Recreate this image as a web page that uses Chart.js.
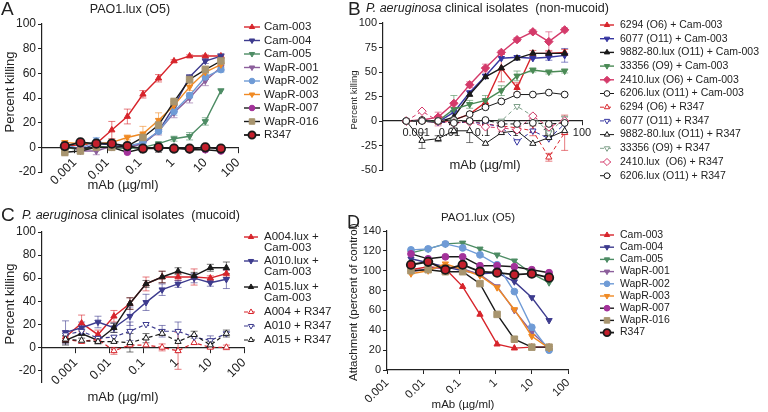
<!DOCTYPE html>
<html>
<head>
<meta charset="utf-8">
<script src="https://cdn.jsdelivr.net/npm/chart.js"></script>
<style>
  body { margin: 0; width: 768px; height: 412px; background: #fff; position: relative; overflow: hidden;
         font-family: "Liberation Sans", Arial, sans-serif; color: #222; }
  canvas { position: absolute; }
  .t { position: absolute; white-space: pre; line-height: 1; transform: translate(-50%, -50%); }
  .l { position: absolute; white-space: pre; line-height: 1; }
  .v { position: absolute; white-space: pre; line-height: 1; transform: translate(-50%, -50%) rotate(-90deg); }
</style>
</head>
<body>
<canvas id="cA" style="left:0;top:0" width="384" height="206"></canvas>
<canvas id="cB" style="left:330px;top:0" width="438" height="206"></canvas>
<canvas id="cC" style="left:0;top:206px" width="384" height="206"></canvas>
<canvas id="cD" style="left:330px;top:206px" width="438" height="206"></canvas>

<div class="l" style="left:1px;top:-1px;font-size:19px">A</div>
<div class="t" style="left:130px;top:9px;font-size:12.5px">PAO1.lux (O5)</div>
<div class="v" style="left:9px;top:92px;font-size:13px">Percent killing</div>
<div class="t" style="left:123px;top:184px;font-size:13px">mAb (µg/ml)</div>

<div class="l" style="left:348px;top:-1px;font-size:19px">B</div>
<div class="l" style="left:366px;top:2px;font-size:12.5px"><i>P. aeruginosa</i> clinical isolates  (non-mucoid)</div>
<div class="v" style="left:354px;top:100px;font-size:9.5px">Percent killing</div>
<div class="t" style="left:485px;top:164px;font-size:13px">mAb (µg/ml)</div>

<div class="l" style="left:1px;top:205px;font-size:19px">C</div>
<div class="l" style="left:22px;top:209px;font-size:12.5px"><i>P. aeruginosa</i> clinical isolates  (mucoid)</div>
<div class="v" style="left:9px;top:304px;font-size:13px">Percent killing</div>
<div class="t" style="left:123px;top:396px;font-size:13px">mAb (µg/ml)</div>

<div class="l" style="left:347px;top:213px;font-size:18px">D</div>
<div class="t" style="left:478px;top:218px;font-size:11.5px">PAO1.lux (O5)</div>
<div class="v" style="left:354px;top:302px;font-size:11.5px">Attachment (percent of control)</div>
<div class="t" style="left:463px;top:405px;font-size:11.5px">mAb (µg/ml)</div>

<script>
// concentrations (µg/ml)
const conc = [0.0005, 0.0015, 0.0046, 0.0137, 0.041, 0.123, 0.37, 1.1, 3.3, 10, 30];
const concD = [0.0046, 0.0137, 0.041, 0.123, 0.37, 1.1, 3.3, 10, 30];

const xTicks = [0.001, 0.01, 0.1, 1, 10, 100];
const xTickLabels = ['0.001', '0.01', '0.1', '1', '10', '100'];
const yTicksA = [-20, 0, 20, 40, 60, 80, 100];
const yTicksB = [-50, -25, 0, 25, 50, 75, 100];
const yTicksD = [0, 20, 40, 60, 80, 100, 120, 140];

// panel A - percent killing, PAO1.lux
const aCam003 = [1, 2, 3, 14, 25, 43, 56, 70, 74, 74, 74];
const aCam004 = [2, -2, 3, 2, 0, 3, 13, 33, 57, 70, 74];
const aCam005 = [0, -2, 1, 0, -1, 0, 3, 7, 9, 21, 46];
const aWapR001 = [3, -3, -3, 1, 0, 3, 13, 28, 40, 54, 65];
const aWapR002 = [2, -1, 5, 2, 1, 4, 13, 29, 42, 57, 63];
const aWapR003 = [4, 3, 3, 4, 8, 11, 22, 34, 49, 61, 67];
const aWapR007 = [0, -1, 0, 0, -4, -1, -1, 0, -2, -2, -3];
const aWapR016 = [-4, -3, 0, 0, 1, 8, 18, 37, 55, 63, 70];
const aR347 = [1, 4, 3, 3, 1, -1, 0, -1, -1, 0, -1];
const aCam003Err = [0, 0, 0, 7, 6, 3, 3, 1, 1, 1, 1];
const aCam004Err = [0, 0, 0, 0, 0, 0, 0, 0, 2, 2, 2];
const aCam005Err = [0, 0, 0, 0, 0, 0, 0, 2, 3, 3, 0];
const aWapR001Err = [0, 0, 3, 0, 0, 0, 3, 4, 4, 4, 3];
const aWapR002Err = [0, 0, 3, 0, 0, 0, 2, 3, 2, 2, 2];
const aWapR003Err = [0, 0, 0, 2, 2, 6, 6, 3, 3, 3, 2];
const aWapR016Err = [3, 0, 0, 0, 0, 2, 3, 3, 3, 3, 3];
const aR347Err = [2, 0, 0, 0, 3, 2, 4, 2, 1, 1, 1];

// panel B - clinical isolates (non-mucoid)
const b6294Cam = [0, 0, -1, 1, 7, 19, 54, 34, 69, 69, 70];
const b6077Cam = [0, 0, -1, 9, 29, 46, 64, 65, 64, 65, 67];
const b9882Cam = [0, 0, -1, 4, 27, 45, 54, 64, 69, 69, 69];
const b33356Cam = [0, 0, 0, 12, 17, 21, 31, 46, 52, 50, 51];
const b2410Cam = [0, 1, 4, 18, 37, 54, 70, 83, 91, 81, 93];
const b6206Cam = [0, 1, 0, 1, 7, 14, 20, 27, 27, 29, 27];
const b6294R = [0, 0, -1, -2, 0, -3, -5, -7, -10, -37, -12];
const b6077R = [0, 0, -1, -2, -1, -3, -6, -21, -10, -18, -3];
const b9882R = [0, -20, -18, -10, -10, -23, -12, -10, -23, -17, -10];
const b33356R = [0, 0, 0, 0, 0, -1, 0, 15, 5, -12, 3];
const b2410R = [0, 10, 0, -2, -1, -6, -7, -9, 5, -6, 0];
const b6206R = [0, 0, 0, -2, 0, 1, -3, -3, -2, -3, -2];
const b6294CamErr = [0, 0, 0, 0, 0, 3, 14, 5, 3, 3, 3];
const b6077CamErr = [0, 0, 0, 0, 0, 0, 0, 0, 0, 3, 7];
const b33356CamErr = [0, 0, 0, 14, 4, 5, 5, 5, 2, 2, 2];
const b2410CamErr = [0, 0, 5, 0, 3, 4, 2, 2, 2, 10, 2];
const b6294RErr = [0, 0, 0, 0, 0, 0, 4, 3, 5, 4, 18];
const b9882RErr = [0, 8, 3, 3, 12, 0, 0, 0, 0, 0, 0];
const b2410RErr = [0, 0, 5, 0, 0, 0, 4, 0, 0, 0, 0];

// panel C - clinical isolates (mucoid)
const cA004Cam = [9, 21, 11, 27, 38, 55, 61, 61, 61, 60, 64];
const cA010Cam = [13, 17, 22, 17, 27, 39, 50, 55, 60, 56, 59];
const cA015Cam = [6, 12, 6, 17, 38, 55, 61, 66, 62, 69, 69];
const cA004R = [7, 5, 7, -3, 2, 2, 0, -3, 4, 0, 0];
const cA010R = [11, 14, 8, 9, 14, 20, 14, 14, 9, 6, 12];
const cA015R = [7, 6, 5, 5, 4, 8, 12, 5, 11, 2, 12];
const cA004CamErr = [5, 7, 4, 5, 5, 6, 5, 3, 7, 2, 3];
const cA010CamErr = [10, 5, 5, 4, 8, 7, 5, 3, 4, 3, 8];
const cA015CamErr = [4, 4, 3, 4, 5, 3, 5, 3, 3, 3, 5];
const cA004RErr = [0, 0, 0, 3, 0, 0, 3, 16, 0, 0, 2];
const cA010RErr = [0, 0, 0, 0, 8, 0, 5, 8, 0, 4, 0];
const cA015RErr = [3, 0, 0, 0, 8, 4, 0, 0, 3, 3, 3];

// panel D - attachment (percent of control)
const dCam003 = [101, 104, 102, 84, 56, 26, 22, 23, 23];
const dCam004 = [112, 108, 104, 100, 97, 98, 89, 73, 50];
const dCam005 = [118, 122, 127, 128, 122, 116, 110, 97, 88];
const dWapR001 = [99, 102, 104, 102, 96, 84, 60, 38, 22];
const dWapR002 = [121, 122, 127, 123, 116, 106, 79, 43, 20];
const dWapR003 = [97, 100, 107, 101, 95, 83, 61, 34, 22];
const dWapR007 = [117, 112, 114, 114, 105, 105, 104, 101, 98];
const dWapR016 = [100, 101, 99, 99, 87, 56, 31, 23, 23];
const dR347 = [106, 109, 101, 106, 99, 98, 96, 97, 93];

// colours
const RED = '#d7242b', NAVY = '#3d3b8e', GREEN = '#4d8c64', PURPLE = '#8c5f9c',
      LTBLUE = '#6f9bd6', ORANGE = '#f08a24', MAGENTA = '#a3329a', TAN = '#a8956f',
      BLACK = '#1a1a1a', PINK = '#d43a6a', NAVYB = '#3535a0', GREENB = '#4a8a55';

function filled(color, shape, rot, line) {
  return { borderColor: line || color, pointBackgroundColor: color, pointBorderColor: color,
           pointStyle: shape, pointRotation: rot || 0 };
}
function open(color, shape, rot, dashed) {
  return { borderColor: color, pointBackgroundColor: '#fff', pointBorderColor: color,
           pointStyle: shape, pointRotation: rot || 0, borderDash: dashed ? [4, 3] : [] };
}
function series(label, xs, ys, st, err, extra) {
  return Object.assign({
    label, data: xs.map((x, i) => ({ x, y: ys[i] })), err,
    borderWidth: 1.4, pointRadius: 3.6, pointBorderWidth: 1, tension: 0
  }, st, extra || {});
}

// error bars drawn from the err arrays through the chart scales
const errorBars = {
  id: 'errorBars',
  beforeDatasetsDraw(chart) {
    const ctx = chart.ctx, sx = chart.scales.x, sy = chart.scales.y;
    chart.data.datasets.forEach(ds => {
      if (!ds.err) return;
      ctx.save();
      ctx.strokeStyle = ds.errColor || ds.pointBorderColor;
      ctx.globalAlpha = 0.6;
      ctx.lineWidth = 1;
      ds.data.forEach((p, i) => {
        const e = ds.err[i];
        if (!e) return;
        const px = sx.getPixelForValue(p.x);
        const y1 = sy.getPixelForValue(p.y - e), y2 = sy.getPixelForValue(p.y + e);
        ctx.beginPath();
        ctx.moveTo(px, y1); ctx.lineTo(px, y2);
        ctx.moveTo(px - 3.5, y1); ctx.lineTo(px + 3.5, y1);
        ctx.moveTo(px - 3.5, y2); ctx.lineTo(px + 3.5, y2);
        ctx.stroke();
      });
      ctx.restore();
    });
  }
};

// legend at the right of each panel, using each dataset's own style
const sideLegend = {
  id: 'sideLegend',
  afterDraw(chart, args, o) {
    if (!o || o.x === undefined) return;
    const ctx = chart.ctx;
    ctx.save();
    chart.data.datasets.forEach((ds, i) => {
      const y = o.ys ? o.ys[i] : o.y0 + i * o.dy;
      ctx.strokeStyle = ds.borderColor;
      ctx.lineWidth = ds.borderWidth;
      ctx.setLineDash(ds.borderDash || []);
      ctx.beginPath();
      ctx.moveTo(o.x - o.half, y); ctx.lineTo(o.x + o.half, y);
      ctx.stroke();
      ctx.setLineDash([]);
      ctx.fillStyle = ds.pointBackgroundColor;
      ctx.strokeStyle = ds.pointBorderColor;
      ctx.lineWidth = ds.pointBorderWidth;
      Chart.helpers.drawPoint(ctx, { pointStyle: ds.pointStyle, rotation: ds.pointRotation || 0,
        radius: ds.pointRadius * o.scale, borderWidth: ds.pointBorderWidth }, o.x, y);
      ctx.fillStyle = '#222';
      ctx.font = o.font;
      ctx.textBaseline = 'middle';
      ctx.textAlign = 'left';
      String(ds.label).split('\n').forEach((t, k) => ctx.fillText(t, o.tx, y + k * (o.lh || 0)));
    });
    ctx.restore();
  }
};

Chart.defaults.font.family = "'Liberation Sans', Arial, sans-serif";
Chart.defaults.color = '#222';
Chart.register(errorBars, sideLegend);

function logX(min, max, position, rot, font, tl, pad, height) {
  const s = {
    type: 'logarithmic', min, max, position,
    afterBuildTicks: (sc) => { sc.ticks = xTicks.map(v => ({ value: v })); },
    ticks: { autoSkip: false, minRotation: rot, maxRotation: rot, font: { size: font }, color: '#222',
             padding: pad, callback: (v, i) => xTickLabels[i] },
    grid: { drawOnChartArea: false, tickLength: tl, color: '#222' },
    border: { color: '#222', width: 1.2 }
  };
  if (height) s.afterFit = (sc) => { sc.height = height; };
  return s;
}
function linY(min, max, tickVals, width, font) {
  return {
    type: 'linear', min, max,
    afterBuildTicks: (sc) => { sc.ticks = tickVals.map(v => ({ value: v })); },
    afterFit: (sc) => { sc.width = width; },
    ticks: { font: { size: font }, color: '#222', padding: 2 },
    grid: { drawOnChartArea: false, tickLength: 4, color: '#222' },
    border: { color: '#222', width: 1.2 }
  };
}
function makeChart(id, datasets, scales, padding, legend) {
  datasets.forEach((ds, i) => { ds.order = datasets.length - i; });
  return new Chart(document.getElementById(id), {
    type: 'line',
    data: { datasets },
    options: {
      responsive: false, animation: false, events: [],
      layout: { padding },
      scales,
      plugins: { legend: { display: false }, tooltip: { enabled: false }, sideLegend: legend }
    }
  });
}

// A
makeChart('cA', [
  series('Cam-003', conc, aCam003, filled(RED, 'triangle'), aCam003Err),
  series('Cam-004', conc, aCam004, filled(NAVY, 'triangle', 180), aCam004Err),
  series('Cam-005', conc, aCam005, filled(GREEN, 'triangle', 180), aCam005Err),
  series('WapR-001', conc, aWapR001, filled(PURPLE, 'triangle', 180), aWapR001Err),
  series('WapR-002', conc, aWapR002, filled(LTBLUE, 'circle'), aWapR002Err, { pointRadius: 3.3 }),
  series('WapR-003', conc, aWapR003, filled(ORANGE, 'triangle', 180), aWapR003Err),
  series('WapR-007', conc, aWapR007, filled(MAGENTA, 'circle', 0, BLACK), null, { pointRadius: 3.3 }),
  series('WapR-016', conc, aWapR016, filled(TAN, 'rect', 0, BLACK), aWapR016Err, { pointRadius: 4.6 }),
  series('R347', conc, aR347, { borderColor: BLACK, pointBackgroundColor: '#c41f2c', pointBorderColor: BLACK,
    pointStyle: 'circle' }, aR347Err, { pointRadius: 4.2, pointBorderWidth: 1.8, borderWidth: 1.8 })
], {
  x: logX(0.0001, 100, { y: 0 }, 45, 12.5, 5, 3),
  y: linY(-20, 100, yTicksA, 42, 12)
}, { left: 0, top: 24, right: 146, bottom: 34 },
{ x: 252, half: 8, tx: 264, y0: 27, dy: 13.5, font: "11.5px 'Liberation Sans', Arial", scale: 0.85 });

// B
makeChart('cB', [
  series('6294 (O6) + Cam-003', conc, b6294Cam, filled(RED, 'triangle'), b6294CamErr),
  series('6077 (O11) + Cam-003', conc, b6077Cam, filled(NAVYB, 'triangle', 180), b6077CamErr),
  series('9882-80.lux (O11) + Cam-003', conc, b9882Cam, filled(BLACK, 'triangle')),
  series('33356 (O9) + Cam-003', conc, b33356Cam, filled(GREENB, 'triangle', 180), b33356CamErr),
  series('2410.lux (O6) + Cam-003', conc, b2410Cam, filled(PINK, 'rectRot'), b2410CamErr, { pointRadius: 4.2 }),
  series('6206.lux (O11) + Cam-003', conc, b6206Cam, open(BLACK, 'circle'), null, { borderWidth: 1, pointRadius: 3.4 }),
  series('6294 (O6) + R347', conc, b6294R, open(RED, 'triangle', 0, true), b6294RErr, { borderWidth: 1 }),
  series('6077 (O11) + R347', conc, b6077R, open(NAVYB, 'triangle', 180, true), null, { borderWidth: 1 }),
  series('9882-80.lux (O11) + R347', conc, b9882R, open(BLACK, 'triangle'), b9882RErr, { borderWidth: 1 }),
  series('33356 (O9) + R347', conc, b33356R, open('#7fa08a', 'triangle', 180, true), null, { borderWidth: 1 }),
  series('2410.lux  (O6) + R347', conc, b2410R, open(PINK, 'rectRot', 0, true), b2410RErr, { borderWidth: 1, pointRadius: 4.2 }),
  series('6206.lux (O11) + R347', conc, b6206R, open(BLACK, 'circle', 0, true), null, { borderWidth: 1, pointRadius: 3.4 })
], {
  x: logX(0.0001, 100, { y: 0 }, 0, 11, 4, 1),
  y: linY(-50, 100, yTicksB, 53, 11)
}, { left: 0, top: 23, right: 186, bottom: 36 },
{ x: 277, half: 7, tx: 290, y0: 25, dy: 13.7, font: "10.5px 'Liberation Sans', Arial", scale: 0.85 });

// C
makeChart('cC', [
  series('A004.lux +\nCam-003', conc, cA004Cam, filled(RED, 'triangle'), cA004CamErr),
  series('A010.lux +\nCam-003', conc, cA010Cam, filled(NAVY, 'triangle', 180), cA010CamErr),
  series('A015.lux +\nCam-003', conc, cA015Cam, filled(BLACK, 'triangle'), cA015CamErr),
  series('A004 + R347', conc, cA004R, open(RED, 'triangle', 0, true), cA004RErr, { borderWidth: 1.2 }),
  series('A010 + R347', conc, cA010R, open(NAVY, 'triangle', 180, true), cA010RErr, { borderWidth: 1.2 }),
  series('A015 + R347', conc, cA015R, open(BLACK, 'triangle', 0, true), cA015RErr, { borderWidth: 1.2 })
], {
  x: logX(0.0001, 100, { y: 0 }, 45, 12.5, 5, 3),
  y: linY(-30, 100, yTicksA, 42, 12)
}, { left: 0, top: 26, right: 140, bottom: 30 },
{ x: 251, half: 7, tx: 264, ys: [31, 55, 81, 106, 120, 134], lh: 10.5, font: "11.5px 'Liberation Sans', Arial", scale: 0.85 });

// D
makeChart('cD', [
  series('Cam-003', concD, dCam003, filled(RED, 'triangle')),
  series('Cam-004', concD, dCam004, filled(NAVY, 'triangle', 180)),
  series('Cam-005', concD, dCam005, filled(GREEN, 'triangle', 180)),
  series('WapR-001', concD, dWapR001, filled(PURPLE, 'triangle', 180)),
  series('WapR-002', concD, dWapR002, filled(LTBLUE, 'circle'), null, { pointRadius: 3.4 }),
  series('WapR-003', concD, dWapR003, filled(ORANGE, 'triangle', 180)),
  series('WapR-007', concD, dWapR007, filled(MAGENTA, 'circle', 0, BLACK), null, { pointRadius: 3.4 }),
  series('WapR-016', concD, dWapR016, filled(TAN, 'rect', 0, BLACK), null, { pointRadius: 4.6 }),
  series('R347', concD, dR347, { borderColor: BLACK, pointBackgroundColor: '#c41f2c', pointBorderColor: BLACK,
    pointStyle: 'circle' }, null, { pointRadius: 4.2, pointBorderWidth: 1.8, borderWidth: 1.8 })
], {
  x: logX(0.001, 100, 'bottom', 45, 11.5, 4, 2, 42),
  y: linY(0, 140, yTicksD, 57, 11)
}, { left: 0, top: 25, right: 200, bottom: 0 },
{ x: 277, half: 7, tx: 290, y0: 29, dy: 12.2, font: "10.5px 'Liberation Sans', Arial", scale: 0.85 });
</script>
</body>
</html>
